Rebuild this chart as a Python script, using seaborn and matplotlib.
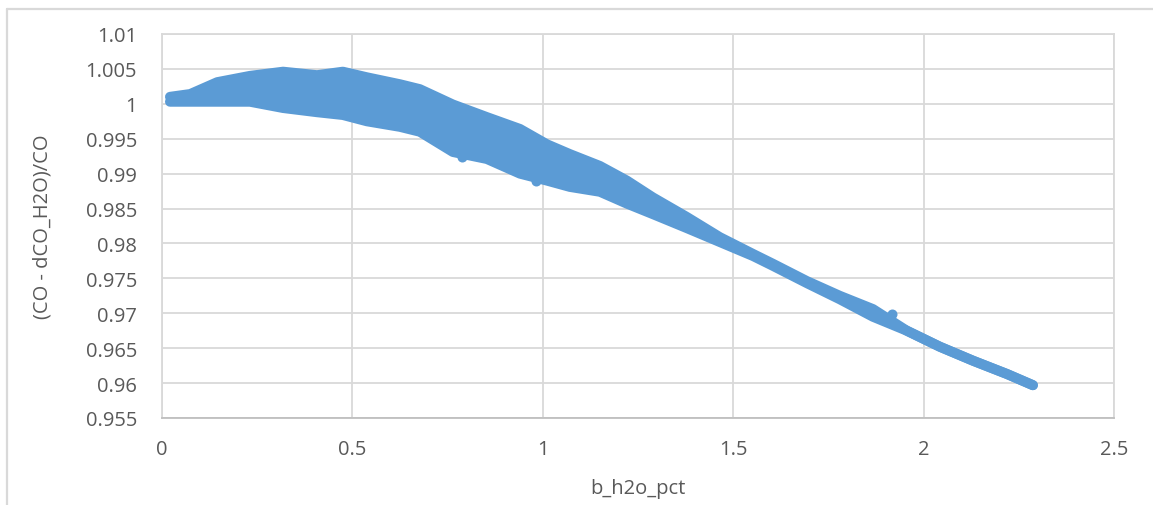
import numpy as np
import matplotlib
matplotlib.use("Agg")
import matplotlib.pyplot as plt
from matplotlib.lines import Line2D
import seaborn as sns

# band of points: marker centres on the upper / lower edge
x_vals = [0.021, 0.074, 0.145, 0.231, 0.318, 0.407, 0.475, 0.538, 0.625, 0.677,
          0.764, 0.853, 0.940, 1.011, 1.071, 1.150, 1.221, 1.289, 1.378, 1.465,
          1.552, 1.604, 1.694, 1.780, 1.867, 1.956, 2.043, 2.130, 2.219, 2.287]
y_upper = [1.0010, 1.0014, 1.0031, 1.0040, 1.0046, 1.0041, 1.0046, 1.0038, 1.0028, 1.0021,
           0.9999, 0.9981, 0.9964, 0.9942, 0.9928, 0.9911, 0.9890, 0.9866, 0.9838, 0.9809,
           0.9785, 0.9771, 0.9746, 0.9725, 0.9706, 0.9675, 0.9652, 0.9632, 0.9613, 0.9597]
y_lower = [1.0003, 1.0003, 1.0003, 1.0003, 0.9994, 0.9988, 0.9984, 0.9975, 0.9967, 0.9960,
           0.9931, 0.9921, 0.9900, 0.9890, 0.9881, 0.9874, 0.9857, 0.9842, 0.9822, 0.9802,
           0.9782, 0.9768, 0.9743, 0.9720, 0.9695, 0.9675, 0.9652, 0.9632, 0.9613, 0.9597]
# single stray points
x_extra = [1.916, 0.787, 0.853, 0.983]
y_extra = [0.9699, 0.9924, 0.9924, 0.9890]

x_ticks = [0, 0.5, 1, 1.5, 2, 2.5]
y_ticks = [0.955, 0.96, 0.965, 0.97, 0.975, 0.98, 0.985, 0.99, 0.995, 1, 1.005, 1.01]
y_ticklabels = ["0.955", "0.96", "0.965", "0.97", "0.975", "0.98", "0.985", "0.99",
                "0.995", "1", "1.005", "1.01"]

BLUE = "#5B9BD5"
GRID = "#D9D9D9"
TXT = "#595959"

sns.set_theme(style="white")
plt.rcParams["font.family"] = ["Open Sans", "DejaVu Sans"]

fig = plt.figure(figsize=(11.53, 5.06), dpi=100)
ax = fig.add_axes([162 / 1153, 1 - 419 / 506, 952 / 1153, 384 / 506])

# dense scatter band: filled between the edges, edges drawn as fat round strokes
ax.fill_between(x_vals, y_lower, y_upper, color=BLUE, lw=0, zorder=3)
sns.lineplot(x=x_vals, y=y_upper, ax=ax, color=BLUE, lw=7.2, sort=False,
             estimator=None, solid_capstyle="round", solid_joinstyle="round", zorder=3)
sns.lineplot(x=x_vals, y=y_lower, ax=ax, color=BLUE, lw=7.2, sort=False,
             estimator=None, solid_capstyle="round", solid_joinstyle="round", zorder=3)
sns.scatterplot(x=x_extra, y=y_extra, ax=ax, color=BLUE, s=52, linewidth=0, zorder=4)

ax.set_xlim(0, 2.5)
ax.set_ylim(0.955, 1.01)
ax.set_xticks(x_ticks)
ax.set_xticklabels([f"{t:g}" for t in x_ticks])
ax.set_yticks(y_ticks)
ax.set_yticklabels(y_ticklabels)
ax.grid(True, color=GRID, lw=1.3)
ax.set_axisbelow(True)
for side in ["top", "right", "left"]:
    ax.spines[side].set_color(GRID)
    ax.spines[side].set_linewidth(1.3)
ax.spines["bottom"].set_color("#BFBFBF")
ax.spines["bottom"].set_linewidth(1.3)
ax.tick_params(axis="both", length=0, labelsize=14.5, labelcolor=TXT)
ax.tick_params(axis="y", pad=18)
ax.tick_params(axis="x", pad=15)

ax.set_xlabel("b_h2o_pct", fontsize=14.5, color=TXT)
ax.set_ylabel("(CO - dCO_H2O)/CO", fontsize=14.5, color=TXT)
ax.xaxis.set_label_coords(0.5, -0.155)
ax.yaxis.set_label_coords(-0.1145, 0.5)

# outer chart-area border (cropped: only top and left visible)
fig.add_artist(Line2D([7 / 1153, 1], [1 - 9.5 / 506] * 2, color=GRID, lw=1.6))
fig.add_artist(Line2D([7 / 1153] * 2, [0, 1 - 9.5 / 506], color=GRID, lw=1.6))

fig.savefig("out.png", dpi=100)
